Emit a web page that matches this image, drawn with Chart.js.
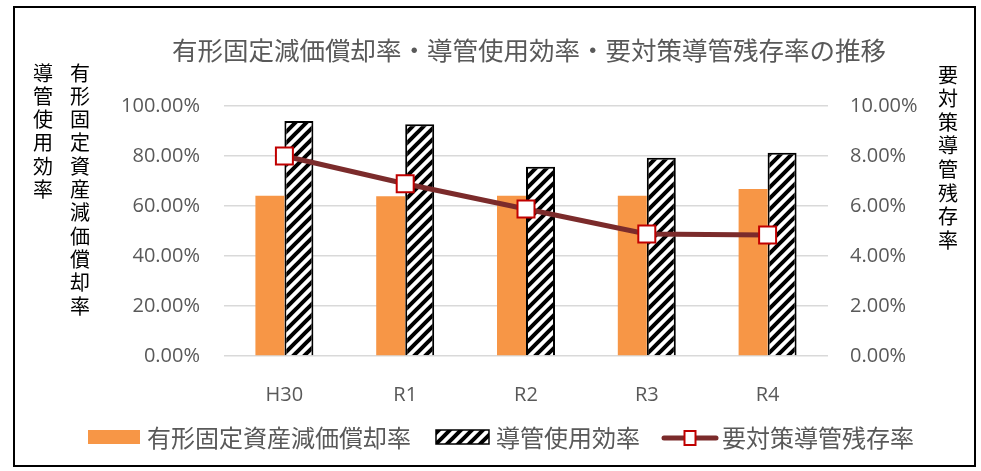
<!DOCTYPE html>
<html lang="ja">
<head>
    <meta charset="utf-8">
    <title>有形固定減価償却率・導管使用効率・要対策導管残存率の推移</title>
    <style>
        body { margin: 0; background: #fff; }
        #wrap { width: 981px; height: 471px; }
    </style>
</head>
<body>
    <div id="wrap"><canvas id="chart" width="981" height="471"></canvas></div>
    <script src="https://cdn.jsdelivr.net/npm/chart.js@4/dist/chart.umd.min.js"></script>
    <script>
        // data
        var categories = ['H30', 'R1', 'R2', 'R3', 'R4'];
        var depreciationRate = [0.641, 0.639, 0.641, 0.641, 0.668];   // 有形固定資産減価償却率 (left)
        var pipeUsageRate = [0.940, 0.927, 0.757, 0.793, 0.813];      // 導管使用効率 (left)
        var remainingRate = [0.0800, 0.0689, 0.0588, 0.0488, 0.0484]; // 要対策導管残存率 (right)

        var chartTitle = '有形固定減価償却率・導管使用効率・要対策導管残存率の推移';
        var seriesNames = ['有形固定資産減価償却率', '導管使用効率', '要対策導管残存率'];

        var JP = '"Noto Sans CJK JP", "Noto Sans", sans-serif';
        var NUM = '"Open Sans", "Noto Sans", sans-serif';
        var grey = '#595959';
        var orange = '#F79646';
        var lineColor = '#7B2B2B';
        var markerColor = '#C00000';

        // wide upward diagonal hatch
        function makeHatch() {
            var c = document.createElement('canvas');
            c.width = 11; c.height = 11;
            var g = c.getContext('2d');
            g.fillStyle = '#fff';
            g.fillRect(0, 0, 11, 11);
            g.strokeStyle = '#000';
            g.lineWidth = 4;
            g.beginPath();
            g.moveTo(-2, 13); g.lineTo(13, -2);
            g.moveTo(-7, 7); g.lineTo(7, -7);
            g.moveTo(4, 18); g.lineTo(18, 4);
            g.stroke();
            return document.getElementById('chart').getContext('2d').createPattern(c, 'repeat');
        }
        var hatch = makeHatch();

        function pct(v) { return (v * 100).toFixed(2) + '%'; }

        function vertical(ctx, text, x, y, step) {
            for (var i = 0; i < text.length; i++) {
                ctx.fillText(text[i], x, y + i * step);
            }
        }

        var extras = {
            id: 'extras',
            beforeDraw: function(chart) {
                var ctx = chart.ctx;
                ctx.save();
                ctx.fillStyle = '#fff';
                ctx.fillRect(0, 0, chart.width, chart.height);
                ctx.restore();
            },
            afterDraw: function(chart) {
                var ctx = chart.ctx;
                ctx.save();
                ctx.textBaseline = 'middle';

                // title
                ctx.fillStyle = grey;
                ctx.textAlign = 'center';
                ctx.font = '25.5px ' + JP;
                ctx.fillText(chartTitle, 529, 50);

                // axis titles, one character per line
                ctx.fillStyle = '#000';
                ctx.font = '20px ' + JP;
                vertical(ctx, '導管使用効率', 43, 73, 23.3);
                vertical(ctx, '有形固定資産減価償却率', 80, 73, 23.3);
                vertical(ctx, '要対策導管残存率', 948, 75, 23.6);

                // legend
                ctx.textAlign = 'left';
                ctx.font = '24px ' + JP;
                ctx.fillStyle = orange;
                ctx.fillRect(88, 430, 52, 14);
                ctx.fillStyle = grey;
                ctx.fillText(seriesNames[0], 147, 438);

                ctx.fillStyle = hatch;
                ctx.fillRect(436, 430, 53, 14);
                ctx.strokeStyle = '#000';
                ctx.lineWidth = 1.5;
                ctx.strokeRect(436, 430, 53, 14);
                ctx.fillStyle = grey;
                ctx.fillText(seriesNames[1], 496, 438);

                ctx.strokeStyle = lineColor;
                ctx.lineWidth = 5;
                ctx.lineCap = 'round';
                ctx.beginPath();
                ctx.moveTo(664, 438); ctx.lineTo(716, 438);
                ctx.stroke();
                ctx.fillStyle = '#fff';
                ctx.fillRect(684.5, 431, 11, 14);
                ctx.strokeStyle = markerColor;
                ctx.lineWidth = 2;
                ctx.strokeRect(684.5, 431, 11, 14);
                ctx.fillStyle = grey;
                ctx.fillText(seriesNames[2], 722, 438);

                // outer frame
                ctx.strokeStyle = '#000';
                ctx.lineWidth = 2;
                ctx.strokeRect(14, 7, 961, 459);
                ctx.restore();
            }
        };

        var ctx = document.getElementById('chart');
        var chart = new Chart(ctx, {
            type: 'bar',
            data: {
                labels: categories,
                datasets: [{
                    type: 'line',
                    label: seriesNames[2],
                    data: remainingRate,
                    yAxisID: 'y2',
                    order: 0,
                    borderColor: lineColor,
                    borderWidth: 5,
                    pointStyle: 'rect',
                    pointRadius: 12,
                    pointBackgroundColor: '#fff',
                    pointBorderColor: markerColor,
                    pointBorderWidth: 2,
                    tension: 0
                }, {
                    label: seriesNames[0],
                    data: depreciationRate,
                    yAxisID: 'y',
                    order: 1,
                    backgroundColor: orange,
                    borderWidth: 0
                }, {
                    label: seriesNames[1],
                    data: pipeUsageRate,
                    yAxisID: 'y',
                    order: 2,
                    backgroundColor: hatch,
                    borderColor: '#000',
                    borderWidth: 2
                }]
            },
            options: {
                responsive: false,
                animation: false,
                categoryPercentage: 0.48,
                barPercentage: 1,
                layout: { padding: { top: 106, left: 0, right: 0, bottom: 0 } },
                plugins: {
                    legend: { display: false },
                    title: { display: false },
                    tooltip: { enabled: false }
                },
                scales: {
                    x: {
                        grid: { display: false },
                        border: { display: false },
                        ticks: { color: grey, font: { family: NUM, size: 20 }, padding: 19 },
                        afterFit: function(s) { s.height = 115; }
                    },
                    y: {
                        position: 'left',
                        min: 0, max: 1,
                        grid: { color: '#D9D9D9', lineWidth: 1.5, drawTicks: false },
                        border: { display: false },
                        ticks: { stepSize: 0.2, color: grey, font: { family: NUM, size: 20 }, padding: 24, callback: pct },
                        afterFit: function(s) { s.width = 224; }
                    },
                    y2: {
                        position: 'right',
                        min: 0, max: 0.1,
                        grid: { display: false, drawTicks: false },
                        border: { display: false },
                        ticks: { stepSize: 0.02, color: grey, font: { family: NUM, size: 20 }, padding: 22, callback: pct },
                        afterFit: function(s) { s.width = 153; }
                    }
                }
            },
            plugins: [extras]
        });
    </script>
</body>
</html>
